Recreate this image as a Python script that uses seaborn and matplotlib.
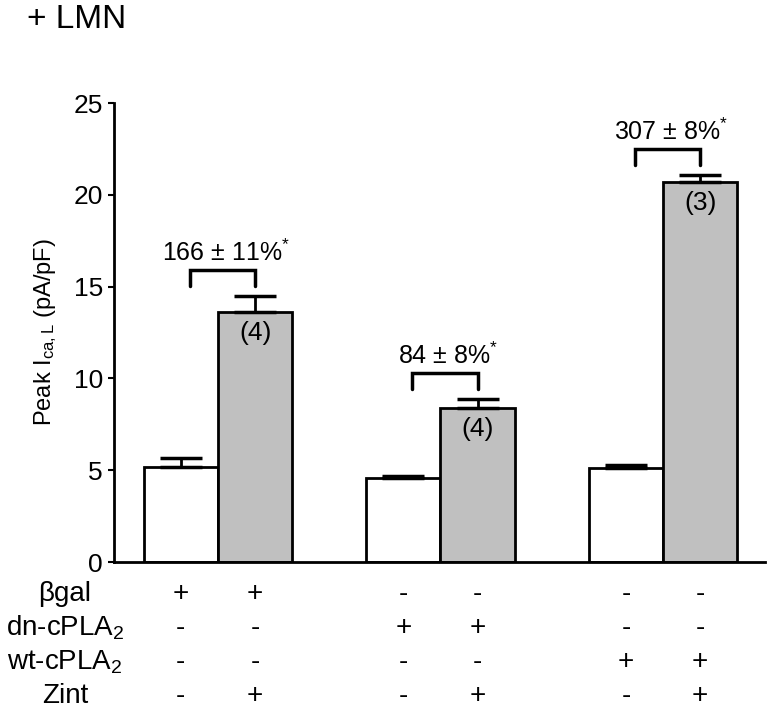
import numpy as np
import pandas as pd
import seaborn as sns
import matplotlib.pyplot as plt
from matplotlib.transforms import blended_transform_factory

# data
groups = ['bgal', 'dn', 'wt']
zint = ['-', '+']
values = [5.2, 13.6, 4.6, 8.4, 5.1, 20.7]
errors = [0.45, 0.9, 0.1, 0.5, 0.2, 0.4]
n_labels = ['(4)', '(4)', '(3)']
pct_labels = ['166 ± 11%', '84 ± 8%', '307 ± 8%']

row_names = ['βgal', 'dn-cPLA$_2$', 'wt-cPLA$_2$', 'Zint']
row_marks = [
    ['+', '+', '-', '-', '-', '-'],
    ['-', '-', '+', '+', '-', '-'],
    ['-', '-', '-', '-', '+', '+'],
    ['-', '+', '-', '+', '-', '+'],
]

sns.set_style('ticks')
plt.rcParams['font.family'] = ['Liberation Sans', 'DejaVu Sans']
plt.rcParams['mathtext.fontset'] = 'custom'
plt.rcParams['mathtext.rm'] = 'Liberation Sans'
plt.rcParams['mathtext.it'] = 'Liberation Sans:italic'
for key in ['text.color', 'axes.labelcolor', 'xtick.color', 'ytick.color',
            'axes.edgecolor']:
    plt.rcParams[key] = 'black'

df = pd.DataFrame({
    'group': np.repeat(groups, 2),
    'zint': zint * 3,
    'value': values,
})

fig = plt.figure(figsize=(7.68, 7.09), dpi=100)
ax = fig.add_axes([0.1484, 0.2073, 0.8477, 0.6474])

sns.barplot(data=df, x='group', y='value', hue='zint', order=groups,
            hue_order=zint, palette={'-': 'white', '+': '#c0c0c0'},
            width=0.668, edgecolor='black', linewidth=2, errorbar=None,
            legend=False, ax=ax)

bars = sorted(ax.patches, key=lambda p: p.get_x())
xs = np.array([p.get_x() + p.get_width() / 2 for p in bars])
tops = np.array([p.get_height() for p in bars])

ax.errorbar(xs, tops, yerr=[np.zeros(len(errors)), errors], fmt='none',
            ecolor='black', elinewidth=2, capsize=15, capthick=2.5, zorder=3)

# brackets and annotations
for i in range(3):
    xw, xg = xs[2 * i], xs[2 * i + 1]
    ytop = tops[2 * i + 1] + errors[2 * i + 1] + 1.4
    x0, x1 = xw + 0.04, xg
    ax.plot([x0, x0, x1, x1], [ytop - 0.85, ytop, ytop, ytop - 0.85],
            color='black', lw=2.5, solid_joinstyle='miter')
    ax.text((x0 + x1) / 2 + 0.015, ytop + 0.5, pct_labels[i] + '$^{*}$',
            ha='center', va='baseline', fontsize=18)
    ax.text(xg, tops[2 * i + 1] - 1.15, n_labels[i], ha='center',
            va='center', fontsize=19)

ax.set_xlim(-0.467, 2.458)
ax.set_ylim(0, 25)
ax.set_yticks([0, 5, 10, 15, 20, 25])
ax.set_xticks([])
ax.set_xlabel('')
ax.set_ylabel(r'Peak $\mathrm{I_{ca,L}}$ (pA/pF)', fontsize=17)
ax.yaxis.set_label_coords(-0.085, 0.5)
ax.tick_params(axis='y', labelsize=19, length=4, width=1.5, pad=4,
               direction='out')
sns.despine(ax=ax)
for s in ['left', 'bottom']:
    ax.spines[s].set_linewidth(2)

# condition table under the bars
trans = blended_transform_factory(ax.transData, ax.transAxes)
row_y = [-0.0697, -0.1438, -0.2179, -0.2919]
for r, name in enumerate(row_names):
    ax.text(-0.0753, row_y[r], name, transform=ax.transAxes, ha='center',
            va='center', fontsize=20, clip_on=False)
    for j, m in enumerate(row_marks[r]):
        ax.text(xs[j], row_y[r], m, transform=trans, ha='center',
                va='center', fontsize=20, clip_on=False)

fig.text(27 / 768, 1 - 28 / 709, '+ LMN', fontsize=24, va='baseline')

fig.savefig('out.png', dpi=100)
